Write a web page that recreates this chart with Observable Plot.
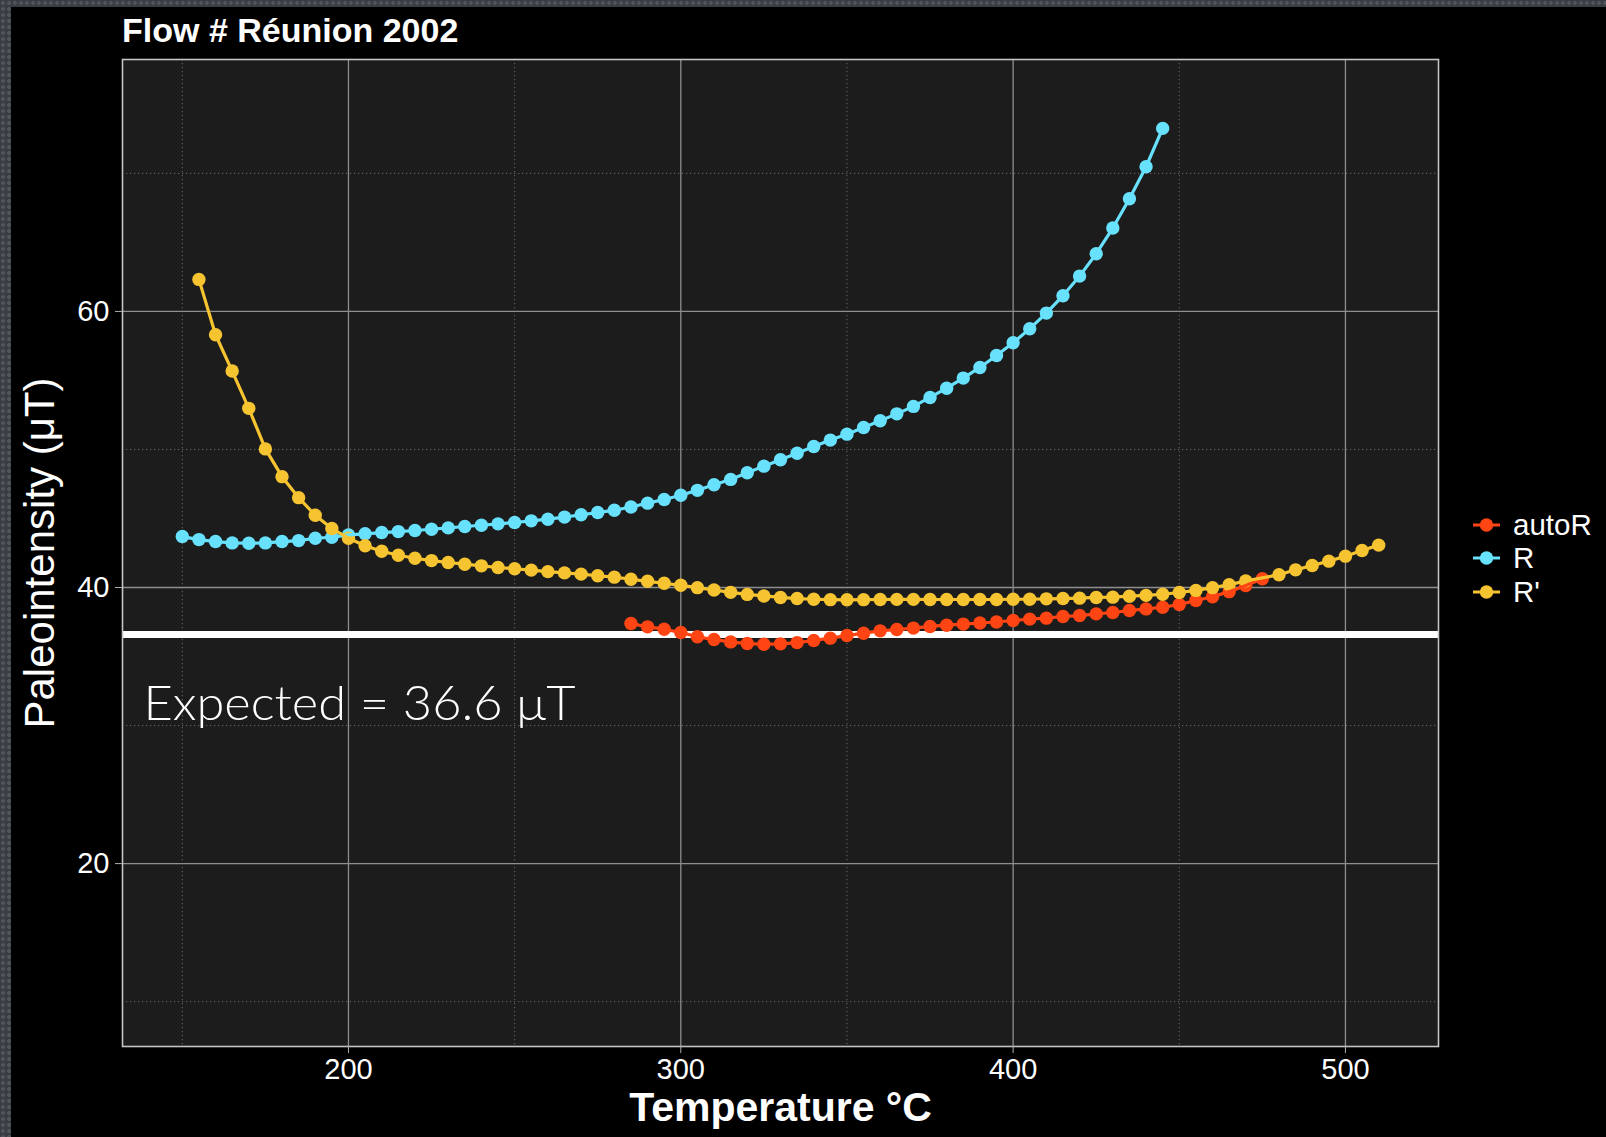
<!DOCTYPE html>
<html><head><meta charset="utf-8">
<script src="https://cdn.jsdelivr.net/npm/d3@7"></script>
<script src="https://cdn.jsdelivr.net/npm/@observablehq/plot@0.6"></script>
<style>
html,body{margin:0;padding:0;background:#000;width:1606px;height:1137px;overflow:hidden;position:relative;}
.strip{position:absolute;background-color:#3a3e44;background-image:radial-gradient(circle at 3px 3px,#50555c 1.6px,transparent 2.2px);background-size:6px 6px;}
#title{position:absolute;left:122px;top:13px;font:bold 34px "Liberation Sans",Arial,sans-serif;line-height:1;color:#fff;white-space:nowrap;}
#chart{position:absolute;left:0;top:52px;}
#legend{position:absolute;left:1473px;top:508px;font:29.5px "Liberation Sans",Arial,sans-serif;color:#fff;}
#legend .row{display:flex;align-items:center;height:33.5px;}
#legend svg{margin-right:13px;}
</style></head>
<body>
<div class="strip" style="left:0;top:0;width:11px;height:1137px"></div>
<div class="strip" style="left:0;top:0;width:1606px;height:7px"></div>
<div id="title">Flow # Réunion 2002</div>
<div id="chart"></div>
<div id="legend"></div>
<script>
// ---- data ----
const seriesNames = ["autoR", "R", "R'"];
const seriesColors = ["#FF4513", "#68E1FD", "#F6C431"];

const tempR = [150,155,160,165,170,175,180,185,190,195,200,205,210,215,220,225,230,235,240,245,250,255,260,265,270,275,280,285,290,295,300,305,310,315,320,325,330,335,340,345,350,355,360,365,370,375,380,385,390,395,400,405,410,415,420,425,430,435,440,445];
const valR = [43.69,43.47,43.33,43.23,43.21,43.23,43.33,43.40,43.57,43.64,43.81,43.89,43.98,44.05,44.13,44.22,44.32,44.42,44.51,44.61,44.71,44.83,44.95,45.10,45.27,45.43,45.60,45.83,46.11,46.38,46.68,47.04,47.44,47.83,48.31,48.79,49.25,49.73,50.22,50.68,51.11,51.59,52.08,52.58,53.12,53.77,54.44,55.17,55.94,56.81,57.73,58.75,59.88,61.14,62.56,64.18,66.04,68.16,70.48,73.26];

const tempRp = [155,160,165,170,175,180,185,190,195,200,205,210,215,220,225,230,235,240,245,250,255,260,265,270,275,280,285,290,295,300,305,310,315,320,325,330,335,340,345,350,355,360,365,370,375,380,385,390,395,400,405,410,415,420,425,430,435,440,445,450,455,460,465,470,480,485,490,495,500,505,510];
const valRp = [62.32,58.31,55.68,52.98,50.04,48.03,46.51,45.23,44.27,43.57,43.02,42.63,42.34,42.12,41.95,41.81,41.69,41.57,41.45,41.36,41.26,41.15,41.06,40.97,40.85,40.75,40.60,40.45,40.31,40.16,39.99,39.82,39.65,39.50,39.39,39.28,39.20,39.15,39.12,39.11,39.12,39.13,39.14,39.14,39.13,39.13,39.13,39.13,39.13,39.15,39.15,39.18,39.20,39.23,39.28,39.30,39.37,39.43,39.51,39.64,39.79,39.99,40.20,40.48,40.92,41.28,41.59,41.91,42.27,42.68,43.07];

const tempAuto = [285,290,295,300,305,310,315,320,325,330,335,340,345,350,355,360,365,370,375,380,385,390,395,400,405,410,415,420,425,430,435,440,445,450,455,460,465,470,475];
const valAuto = [37.39,37.15,36.98,36.74,36.43,36.23,36.06,35.94,35.89,35.92,36.01,36.16,36.33,36.52,36.69,36.86,36.96,37.06,37.18,37.27,37.35,37.43,37.50,37.61,37.71,37.78,37.90,37.97,38.09,38.19,38.33,38.45,38.57,38.77,39.06,39.33,39.70,40.15,40.63];

const expected = 36.6;
const expectedLabel = "Expected = 36.6 μT";
const xTicks = [200, 300, 400, 500];
const xMinor = [150, 250, 350, 450];
const yTicks = [20, 40, 60];
const yMinor = [10, 30, 50, 70];
const xTitle = "Temperature °C";
const yTitle = "Paleointensity (μT)";

// ---- build table ----
const rows = [];
tempAuto.forEach((t, i) => rows.push({series: "autoR", t, v: valAuto[i]}));
tempR.forEach((t, i) => rows.push({series: "R", t, v: valR[i]}));
tempRp.forEach((t, i) => rows.push({series: "R'", t, v: valRp[i]}));

const color = {domain: seriesNames, range: seriesColors};

const chart = Plot.plot({
  width: 1606,
  height: 1085,
  marginLeft: 122,
  marginRight: 168,
  marginTop: 7,
  marginBottom: 91,
  style: {background: "transparent", color: "#fff", fontFamily: "'Liberation Sans', Arial, sans-serif", fontSize: "29px", overflow: "visible"},
  x: {domain: [132, 528]},
  y: {domain: [6.75, 78.25]},
  color,
  marks: [
    Plot.frame({fill: "#1c1c1c"}),
    Plot.gridX(xMinor, {stroke: "#6b6b6b", strokeOpacity: 1, strokeWidth: 1, strokeDasharray: "1.2,2.8"}),
    Plot.gridY(yMinor, {stroke: "#6b6b6b", strokeOpacity: 1, strokeWidth: 1, strokeDasharray: "1.2,2.8"}),
    Plot.gridX(xTicks, {stroke: "#8e8e8e", strokeOpacity: 1, strokeWidth: 1.3}),
    Plot.gridY(yTicks, {stroke: "#8e8e8e", strokeOpacity: 1, strokeWidth: 1.3}),
    Plot.ruleY([expected], {stroke: "#ffffff", strokeWidth: 7}),
    Plot.text([expectedLabel], {text: d => d, x: 138.3, y: 31.55, textAnchor: "start", lineAnchor: "middle", fontSize: 48, fontWeight: 300, fontFamily: "Lato, 'Open Sans', sans-serif", fill: "#fff"}),
    Plot.dot(rows, {x: "t", y: "v", fill: "series", r: 6.7, stroke: "none"}),
    Plot.line(rows, {x: "t", y: "v", z: "series", stroke: "series", strokeWidth: 3.2}),
    Plot.frame({stroke: "#c4c4c4", strokeWidth: 1.6}),
    Plot.axisX(xTicks, {tickSize: 7, tickPadding: 5, stroke: "#b0b0b0", fill: "#fff", label: null, fontSize: 29}),
    Plot.axisY(yTicks, {tickSize: 7, tickPadding: 6, stroke: "#b0b0b0", fill: "#fff", label: null, fontSize: 29}),
    Plot.text([xTitle], {text: d => d, frameAnchor: "bottom", dy: 61, lineAnchor: "middle", fontSize: 41, fontWeight: "bold", fill: "#fff"}),
    Plot.text([yTitle], {text: d => d, frameAnchor: "left", dx: -82, rotate: -90, textAnchor: "middle", lineAnchor: "middle", fontSize: 42, fill: "#fff"})
  ]
});
document.getElementById("chart").appendChild(chart);

// stretch the Expected label to the reference width
d3.select(chart).selectAll("text").filter(function(){ return this.textContent === expectedLabel; })
  .attr("textLength", 432).attr("lengthAdjust", "spacingAndGlyphs");

// ---- legend ----
const legend = d3.select("#legend");
seriesNames.forEach((name, i) => {
  const row = legend.append("div").attr("class", "row");
  const s = row.append("svg").attr("width", 27).attr("height", 20);
  s.append("line").attr("x1", 0).attr("x2", 27).attr("y1", 10).attr("y2", 10).attr("stroke", seriesColors[i]).attr("stroke-width", 3);
  s.append("circle").attr("cx", 13.5).attr("cy", 10).attr("r", 6.7).attr("fill", seriesColors[i]);
  row.append("span").text(name);
});
</script>
</body></html>
